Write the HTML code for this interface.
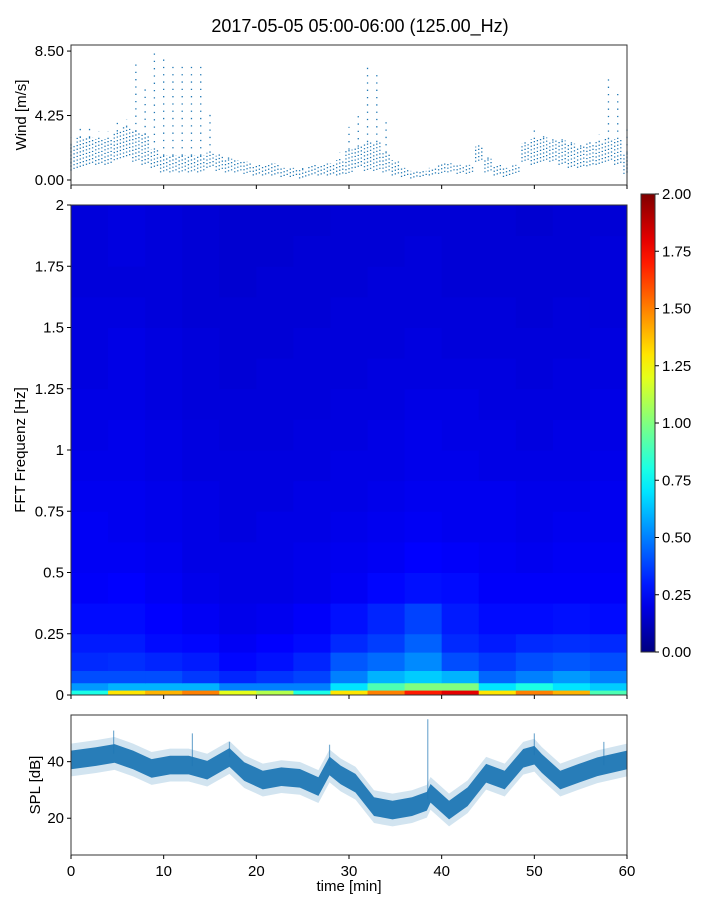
<!DOCTYPE html>
<html><head><meta charset="utf-8">
<style>
html,body{margin:0;padding:0;background:#fff;}
svg text{font-family:"Liberation Sans","DejaVu Sans",sans-serif;fill:#000;}
</style></head>
<body>
<svg id="fig" width="720" height="900" xmlns="http://www.w3.org/2000/svg">
<text x="360" y="32" text-anchor="middle" font-size="18">2017-05-05 05:00-06:00 (125.00_Hz)</text>
<g id="top"></g>
<g id="spec"></g>
<g id="cbar"></g>
<g id="bot"></g>
</svg>
<script>
// ---- data ----
const windMinutes = [0,1,2,3,4,5,6,7,8,9,10,11,12,13,14,15,16,17,18,19,20,21,22,23,24,25,26,27,28,29,30,31,32,33,34,35,36,37,38,39,40,41,42,43,44,45,46,47,48,49,50,51,52,53,54,55,56,57,58,59,60];
const windLow  = [0.6,0.8,1.0,1.0,1.0,1.3,1.5,1.2,1.0,0.8,0.5,0.5,0.5,0.5,0.5,0.8,0.6,0.5,0.5,0.4,0.3,0.3,0.3,0.2,0.2,0.1,0.3,0.3,0.3,0.3,0.4,0.8,0.6,0.6,0.5,0.3,0.2,0.1,0.2,0.3,0.4,0.5,0.4,0.4,1.2,0.5,0.3,0.2,0.4,1.2,1.0,1.2,1.2,1.0,0.8,0.8,0.9,1.0,1.2,1.0,0.4];
const windMid  = [2.3,2.8,2.8,2.7,2.7,3.2,3.5,3.2,3.0,2.0,1.6,1.6,1.6,1.6,1.6,1.8,1.6,1.4,1.3,1.2,1.0,1.0,1.1,0.8,0.8,0.7,1.0,1.0,1.1,1.3,2.0,2.2,2.5,2.5,1.8,1.3,0.8,0.6,0.6,0.8,1.1,1.1,1.0,1.0,2.2,1.4,1.0,0.8,1.0,2.4,2.7,2.8,2.6,2.6,2.4,2.2,2.4,2.5,2.7,2.7,1.8];
const windHigh = [2.8,3.5,3.5,3.2,3.2,3.8,4.0,8.0,6.0,8.5,8.0,7.5,7.8,7.5,7.5,4.5,2.0,1.8,1.5,1.4,1.2,1.2,1.3,1.0,1.0,0.9,1.2,1.2,1.3,1.8,3.5,4.5,7.5,7.0,4.0,1.5,1.0,0.8,0.8,1.0,1.3,1.3,1.2,1.2,2.5,1.6,1.2,1.0,1.2,2.8,3.5,3.2,3.0,3.0,2.8,2.6,2.8,3.0,7.0,6.0,3.5];
const windTicks = [0, 4.25, 8.5];
const windTickLabels = ["0.00","4.25","8.50"];

const specTimeEdges = [0,4,8,12,16,20,24,28,32,36,40,44,48,52,56,60];
const specFreqEdges = [0,0.02,0.05,0.1,0.175,0.25,0.375,0.5,0.625,0.75,0.875,1,1.125,1.25,1.375,1.5,1.625,1.75,1.875,2];
const specRow0  = [0.8,1.3,1.4,1.5,1.2,1.1,0.8,1.3,1.5,1.7,1.8,1.3,1.5,1.4,0.9];
const specRow1  = [0.55,0.6,0.6,0.6,0.5,0.5,0.5,0.7,0.9,1.0,1.0,0.7,0.8,0.7,0.65];
const specRow2  = [0.4,0.4,0.4,0.36,0.32,0.35,0.38,0.5,0.6,0.65,0.6,0.45,0.5,0.55,0.5];
const specRow3  = [0.33,0.34,0.32,0.3,0.26,0.28,0.32,0.42,0.46,0.52,0.4,0.36,0.4,0.42,0.4];
const specRow4  = [0.3,0.3,0.27,0.26,0.23,0.25,0.27,0.33,0.37,0.44,0.33,0.3,0.33,0.34,0.33];
const specRow5  = [0.27,0.27,0.25,0.23,0.21,0.22,0.24,0.28,0.32,0.38,0.3,0.27,0.27,0.28,0.27];
const specRow6  = [0.24,0.25,0.23,0.21,0.2,0.2,0.21,0.23,0.26,0.28,0.27,0.24,0.24,0.24,0.24];
const specRow7  = [0.23,0.23,0.22,0.2,0.2,0.2,0.21,0.22,0.23,0.25,0.24,0.23,0.22,0.23,0.23];
const specRow8  = [0.23,0.22,0.21,0.2,0.19,0.2,0.2,0.21,0.22,0.23,0.22,0.22,0.21,0.22,0.22];
const specRow9  = [0.22,0.22,0.21,0.2,0.19,0.19,0.2,0.2,0.21,0.22,0.22,0.22,0.21,0.21,0.22];
const specRow10 = [0.21,0.21,0.2,0.19,0.19,0.19,0.19,0.2,0.2,0.21,0.21,0.2,0.2,0.2,0.21];
const specRow11 = [0.2,0.21,0.2,0.19,0.18,0.18,0.19,0.19,0.2,0.21,0.2,0.2,0.19,0.2,0.2];
const specRow12 = [0.2,0.2,0.19,0.18,0.18,0.18,0.18,0.19,0.19,0.2,0.2,0.19,0.19,0.19,0.2];
const specRow13 = [0.19,0.2,0.19,0.18,0.17,0.18,0.18,0.18,0.19,0.19,0.19,0.19,0.18,0.19,0.19];
const specRow14 = [0.19,0.2,0.19,0.18,0.17,0.17,0.18,0.18,0.18,0.19,0.18,0.18,0.18,0.18,0.19];
const specRow15 = [0.19,0.19,0.18,0.17,0.17,0.17,0.17,0.18,0.18,0.18,0.18,0.18,0.17,0.18,0.18];
const specRow16 = [0.18,0.18,0.18,0.17,0.16,0.17,0.17,0.17,0.18,0.18,0.17,0.17,0.17,0.17,0.18];
const specRow17 = [0.18,0.19,0.18,0.17,0.16,0.16,0.17,0.17,0.17,0.18,0.17,0.17,0.17,0.17,0.18];
const specRow18 = [0.18,0.19,0.18,0.17,0.16,0.16,0.16,0.17,0.17,0.17,0.17,0.17,0.16,0.17,0.17];
const specRows = [specRow0,specRow1,specRow2,specRow3,specRow4,specRow5,specRow6,specRow7,specRow8,specRow9,specRow10,specRow11,specRow12,specRow13,specRow14,specRow15,specRow16,specRow17,specRow18];
const freqTicks = [0,0.25,0.5,0.75,1,1.25,1.5,1.75,2];
const freqTickLabels = ["0","0.25","0.5","0.75","1","1.25","1.5","1.75","2"];
const cbarTicks = [0,0.25,0.5,0.75,1,1.25,1.5,1.75,2];
const cbarTickLabels = ["0.00","0.25","0.50","0.75","1.00","1.25","1.50","1.75","2.00"];

const splTimes = [0,2.7,4.7,6.7,8.7,10.7,12.7,14.7,17.1,18.7,20.7,22.7,24.7,26.7,27.9,29.1,30.7,32.7,34.7,36.8,38.4,38.8,40.8,42.8,44.8,46.8,48.8,50,50.8,52.8,54.8,56.8,60];
const splMean  = [40.6,41.8,42.9,40.6,37.6,38.8,38.8,37,41.5,36.5,33.5,34.7,34.1,31.2,38.5,35.3,32.4,24.1,22.9,24.1,26,28.8,22.9,27.6,35.9,33.5,41.2,42.3,39.4,33.5,35.9,38.2,40.6];
const splSpikeTimes = [4.6,13.1,17.1,27.9,38.5,50,57.5];
const splSpikeTops  = [51,50,47,46,55,50,47];
const splTicks = [20,40];
const timeTicks = [0,10,20,30,40,50,60];

// ---- helpers ----
const NS = "http://www.w3.org/2000/svg";
function mk(tag, attrs, parent){ const e=document.createElementNS(NS,tag); for(const k in attrs) e.setAttribute(k,attrs[k]); parent.appendChild(e); return e; }
const X0=71, X1=627;
const xT = t => X0 + (t/60)*(X1-X0);
function jet(v){
  let x=Math.max(0,Math.min(1,v/2));
  const r=Math.max(0,Math.min(1,1.5-Math.abs(4*x-3)));
  const g=Math.max(0,Math.min(1,1.5-Math.abs(4*x-2)));
  const b=Math.max(0,Math.min(1,1.5-Math.abs(4*x-1)));
  return `rgb(${Math.round(r*255)},${Math.round(g*255)},${Math.round(b*255)})`;
}
function xAxis(g, yb, labels){
  timeTicks.forEach(t=>{
    const tk=mk('line',{x1:xT(t),x2:xT(t),y1:yb,y2:yb+4,stroke:'#000','stroke-width':1},g);
    
    
    if(labels){
      const tx=mk('text',{x:xT(t),y:yb+21,'text-anchor':'middle','font-size':15},g);
      tx.textContent=String(t);
      
      
    }
  });
}
function yTick(g,y,label,xr){
  const tk=mk('line',{x1:xr-4,x2:xr,y1:y,y2:y,stroke:'#000','stroke-width':1},g);
  
  
  const tx=mk('text',{x:xr-7,y:y+5,'text-anchor':'end','font-size':15},g);
  tx.textContent=label;
  
  
}
function yLabel(g,x,y,txt,name){
  const tx=mk('text',{x:x,y:y,'text-anchor':'middle','font-size':15,transform:`rotate(-90 ${x} ${y})`},g);
  tx.textContent=txt;
  
  
}
function frame(g,y0,y1){
  const r=mk('rect',{x:X0,y:y0,width:X1-X0,height:y1-y0,fill:'none',stroke:'#333','stroke-width':1},g);
  
  
}

// ---- wind panel ----
(function(){
  const g=document.getElementById('top');
  const T0=45,B0=185, vmin=-0.33, vmax=8.9;
  const y=v=> B0-(v-vmin)/(vmax-vmin)*(B0-T0);
  windMinutes.forEach((t,i)=>{
    [-0.33,0,0.33].forEach((d,j)=>{
      const tt=Math.max(0,Math.min(60,t+d));
      const core=mk('line',{x1:xT(tt),x2:xT(tt),y1:y(windLow[i])-j,y2:y(windMid[i]),stroke:'#1f77b4','stroke-width':1.3,'stroke-dasharray':'1.2 2.4'},g);
      
      
    });
    if(windHigh[i]>windMid[i]+0.2){
      const sp=mk('line',{x1:xT(t),x2:xT(t),y1:y(windMid[i]),y2:y(windHigh[i]),stroke:'#1f77b4','stroke-width':1.3,'stroke-dasharray':'1.3 6'},g);
      
      
    }
  });
  frame(g,T0,B0);
  windTicks.forEach((v,i)=>yTick(g,y(v),windTickLabels[i],X0));
  xAxis(g,B0,false);
  yLabel(g,26,115,'Wind [m/s]','wind-y-axis-title');
})();

// ---- spectrogram ----
(function(){
  const g=document.getElementById('spec');
  const T0=205,B0=695;
  const y=f=> B0-(f/2)*(B0-T0);
  specRows.forEach((row,r)=>{
    row.forEach((v,c)=>{
      const x1=xT(specTimeEdges[c]), x2=xT(specTimeEdges[c+1]);
      const ya=y(specFreqEdges[r+1]), yb=y(specFreqEdges[r]);
      const cell=mk('rect',{x:x1,y:ya,width:x2-x1+0.5,height:yb-ya+0.5,fill:jet(v)},g);
      
      
    });
  });
  frame(g,T0,B0);
  freqTicks.forEach((f,i)=>yTick(g,y(f),freqTickLabels[i],X0));
  xAxis(g,B0,false);
  yLabel(g,25,450,'FFT Frequenz [Hz]','freq-y-axis-title');
})();

// ---- colorbar ----
(function(){
  const g=document.getElementById('cbar');
  const L=641,R=655,T=194,B=652;
  const defs=mk('defs',{},g);
  const lg=mk('linearGradient',{id:'jetgrad',x1:0,y1:1,x2:0,y2:0},defs);
  for(let i=0;i<=20;i++){ mk('stop',{offset:(i/20),'stop-color':jet(i/10)},lg); }
  const r=mk('rect',{x:L,y:T,width:R-L,height:B-T,fill:'url(#jetgrad)',stroke:'#333','stroke-width':1},g);
  
  
  cbarTicks.forEach((v,i)=>{
    const yy=B-(v/2)*(B-T);
    const tk=mk('line',{x1:R,x2:R+4,y1:yy,y2:yy,stroke:'#000'},g);
    
    
    const tx=mk('text',{x:R+7,y:yy+5,'font-size':15},g);
    tx.textContent=cbarTickLabels[i];
    
    
  });
})();

// ---- SPL ----
(function(){
  const g=document.getElementById('bot');
  const T0=715,B0=855, vmin=7.0, vmax=56.5;
  const y=v=> B0-(v-vmin)/(vmax-vmin)*(B0-T0);
  function band(off,fill,op,name){
    let pts=splTimes.map((t,i)=>`${xT(t)},${y(splMean[i]+off)}`);
    let back=splTimes.slice().reverse().map((t,j)=>{const i=splTimes.length-1-j;return `${xT(t)},${y(splMean[i]-off)}`;});
    const p=mk('polygon',{points:pts.concat(back).join(' '),fill:fill,'fill-opacity':op},g);
    
    
  }
  band(5.8,'#1f77b4',0.2,'spl-band-outer');
  band(3.3,'#1f77b4',0.95,'spl-band-core');
  splSpikeTimes.forEach((t,i)=>{
    let k=0; while(k<splTimes.length-2 && splTimes[k+1]<t) k++;
    const m=splMean[k]+(splMean[k+1]-splMean[k])*(t-splTimes[k])/(splTimes[k+1]-splTimes[k]);
    const s=mk('line',{x1:xT(t),x2:xT(t),y1:y(m),y2:y(splSpikeTops[i]),stroke:'#1f77b4','stroke-width':1.2,'stroke-opacity':0.6},g);
    
    
  });
  frame(g,T0,B0);
  splTicks.forEach(v=>yTick(g,y(v),String(v),X0));
  xAxis(g,B0,true);
  yLabel(g,40,785,'SPL [dB]','spl-y-axis-title');
  const xl=mk('text',{x:349,y:891,'text-anchor':'middle','font-size':15},g);
  xl.textContent='time [min]';
  
  
})();
</script>
</body></html>
